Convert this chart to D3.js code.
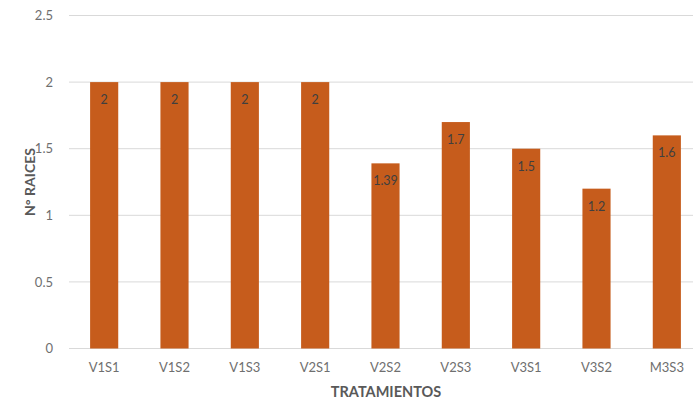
<!DOCTYPE html>
<html>
<head>
<meta charset="utf-8">
<script src="https://cdn.jsdelivr.net/npm/d3@7"></script>
<style>
  html, body { margin: 0; padding: 0; background: #ffffff; }
  svg { display: block; font-family: Lato, "Open Sans", sans-serif; }
</style>
</head>
<body>
<svg id="chart" width="693" height="401"></svg>
<script>
// Treatments and mean root counts
const categories = ["V1S1", "V1S2", "V1S3", "V2S1", "V2S2", "V2S3", "V3S1", "V3S2", "M3S3"];
const values = [2, 2, 2, 2, 1.39, 1.7, 1.5, 1.2, 1.6];
const yTicks = [0, 0.5, 1, 1.5, 2, 2.5];
const yTickLabels = ["0", "0.5", "1", "1.5", "2", "2.5"];

const svg = d3.select("#chart");
const plotLeft = 69, plotRight = 702, plotTop = 15.5, plotBottom = 348.5;

const x = d3.scaleBand().domain(categories).range([plotLeft, plotRight]).paddingInner(0.6).paddingOuter(0.3);
const y = d3.scaleLinear().domain([0, 2.5]).range([plotBottom, plotTop]);

// Horizontal gridlines
svg.append("g").selectAll("line").data(yTicks).join("line")
  .attr("x1", plotLeft).attr("x2", plotRight)
  .attr("y1", d => y(d)).attr("y2", d => y(d))
  .attr("stroke", "#d9d9d9").attr("stroke-width", 1);

// Y axis labels
const yAxis = d3.axisLeft(y).tickValues(yTicks).tickFormat((d, i) => yTickLabels[i]).tickSize(0).tickPadding(16);
const gy = svg.append("g").attr("transform", `translate(${plotLeft},0)`).call(yAxis);
gy.select(".domain").remove();
gy.selectAll("text").attr("fill", "#6f6f6f").style("font-size", "13px").style("font-family", "Lato, sans-serif");

// Bars
svg.append("g").selectAll("rect").data(values).join("rect")
  .attr("x", (d, i) => x(categories[i]))
  .attr("y", d => y(d))
  .attr("width", x.bandwidth())
  .attr("height", d => y(0) - y(d))
  .attr("fill", "#c65c1c");

// Value labels inside the top of each bar
svg.append("g").selectAll("text").data(values).join("text")
  .attr("x", (d, i) => x(categories[i]) + x.bandwidth() / 2)
  .attr("y", d => y(d) + 22)
  .attr("text-anchor", "middle")
  .attr("fill", "#3f3f3f")
  .style("font-size", "12.5px")
  .text(d => String(d));

// X axis labels
const xAxis = d3.axisBottom(x).tickSize(0).tickPadding(14);
const gx = svg.append("g").attr("transform", `translate(0,${plotBottom})`).call(xAxis);
gx.select(".domain").remove();
gx.selectAll("text").attr("fill", "#6f6f6f").style("font-size", "13px").style("font-family", "Lato, sans-serif");

// Axis titles
svg.append("text")
  .attr("x", 386).attr("y", 397)
  .attr("text-anchor", "middle")
  .attr("fill", "#595959")
  .style("font-size", "14.5px").style("font-weight", "bold")
  .text("TRATAMIENTOS");

svg.append("text")
  .attr("transform", "translate(35,182) rotate(-90)")
  .attr("text-anchor", "middle")
  .attr("fill", "#595959")
  .style("font-size", "14px").style("font-weight", "bold")
  .text("N° RAICES");
</script>
</body>
</html>
